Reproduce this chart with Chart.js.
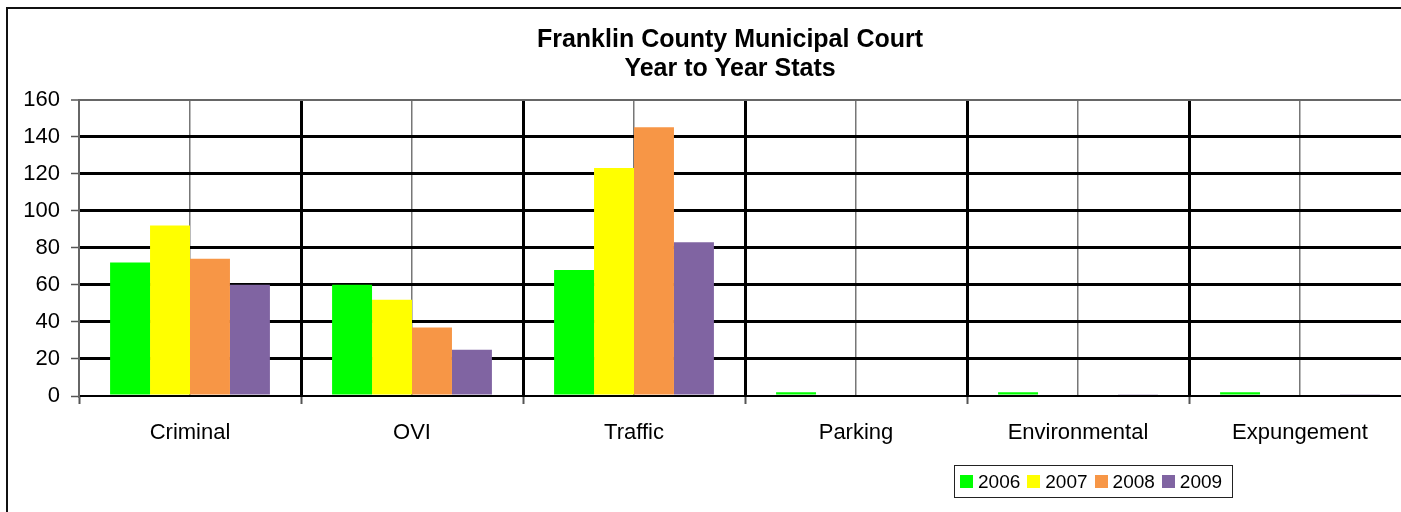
<!DOCTYPE html>
<html>
<head>
<meta charset="utf-8">
<script src="https://cdn.jsdelivr.net/npm/chart.js@4/dist/chart.umd.min.js"></script>
<style>
  html, body { margin: 0; padding: 0; background: #fff; overflow: hidden; width: 1401px; height: 512px; }
  #frame { position: absolute; left: 6px; top: 7px; width: 1444px; height: 520px; border: 2px solid #111; }
  #chart { position: absolute; left: 0; top: 0; }
  #legend { position: absolute; left: 954px; top: 465px; width: 272px; height: 31px; border: 1px solid #222;
    display: flex; align-items: center; padding-left: 5px; box-sizing: content-box;
    font-family: "Liberation Sans", Arial, sans-serif; font-size: 19px; color: #000; }
  #legend .item { display: flex; align-items: center; margin-right: 7px; }
  #legend .sw { width: 13px; height: 13px; margin-right: 5px; }
</style>
</head>
<body>
<div id="frame"><canvas id="chart" width="1444" height="480"></canvas></div>
<div id="legend"></div>
<script>
const categories = ["Criminal", "OVI", "Traffic", "Parking", "Environmental", "Expungement"];
const seriesNames = ["2006", "2007", "2008", "2009"];
const values2006 = [72, 60, 68, 2, 2, 2];
const values2007 = [92, 52, 123, 0, 0, 0];
const values2008 = [74, 37, 145, 0, 0, 0];
const values2009 = [60, 25, 83, 0, 1, 1];
const seriesColors = ["#00FF00", "#FFFF00", "#F79646", "#8064A2"];
const yTicks = [0, 20, 40, 60, 80, 100, 120, 140, 160];
const titleLines = ["Franklin County Municipal Court", "Year to Year Stats"];

const allValues = [values2006, values2007, values2008, values2009];
const FONT = '"Liberation Sans", Arial, sans-serif';

const chart = new Chart(document.getElementById('chart'), {
  type: 'bar',
  data: {
    labels: categories,
    datasets: seriesNames.map((n, i) => ({
      label: n,
      data: allValues[i],
      backgroundColor: seriesColors[i],
      borderWidth: 0,
      categoryPercentage: 0.72,
      barPercentage: 1.0
    }))
  },
  options: {
    responsive: false,
    animation: false,
    devicePixelRatio: 1,
    layout: { padding: { left: 0, right: 0, top: 0, bottom: 33 } },
    plugins: {
      legend: { display: false },
      tooltip: { enabled: false },
      title: {
        display: true,
        text: titleLines,
        color: '#000',
        font: { family: FONT, size: 25, weight: 'bold', lineHeight: 1.15 },
        padding: { top: 17, bottom: 16 }
      }
    },
    scales: {
      x: {
        type: 'category',
        position: 'bottom',
        offset: true,
        grid: {
          offset: true,
          color: c => (c.index === 0 ? 'rgba(0,0,0,0)' : '#000'),
          lineWidth: 3,
          drawTicks: true,
          tickLength: 8,
          tickColor: '#555',
          tickWidth: 2
        },
        border: { display: true, color: '#000', width: 2 },
        ticks: { color: '#000', font: { family: FONT, size: 22 }, padding: 16, maxRotation: 0, autoSkip: false },
        afterFit: s => { s.height = 60; }
      },
      x2: {
        type: 'category',
        labels: categories,
        position: 'top',
        offset: true,
        grid: { offset: false, color: '#777', lineWidth: 1.5, drawTicks: false },
        border: { display: false },
        ticks: { display: false },
        afterFit: s => { s.height = 0; }
      },
      y: {
        min: 0,
        max: 160,
        afterBuildTicks: s => { s.ticks = yTicks.map(v => ({ value: v })); },
        grid: {
          color: c => (c.tick && c.tick.value === 0 ? 'rgba(0,0,0,0)' : (c.tick && c.tick.value === 160 ? '#666' : '#000')),
          lineWidth: c => (c.tick && c.tick.value === 160 ? 2 : 3),
          drawTicks: true,
          tickLength: 8,
          tickColor: '#555',
          tickWidth: 1.5
        },
        border: { display: true, color: '#666', width: 2 },
        ticks: { color: '#000', font: { family: FONT, size: 22 }, padding: 11 },
        afterFit: s => { s.width = 71; }
      },
      y2: {
        type: 'linear',
        position: 'right',
        grid: { display: false },
        border: { display: false },
        ticks: { display: false },
        afterFit: s => { s.width = 41; }
      }
    }
  }
});

const legend = document.getElementById('legend');
chart.data.datasets.forEach(ds => {
  const item = document.createElement('div');
  item.className = 'item';
  const sw = document.createElement('div');
  sw.className = 'sw';
  sw.style.background = ds.backgroundColor;
  const tx = document.createElement('span');
  tx.textContent = ds.label;
  item.appendChild(sw);
  item.appendChild(tx);
  legend.appendChild(item);
});
</script>
</body>
</html>
